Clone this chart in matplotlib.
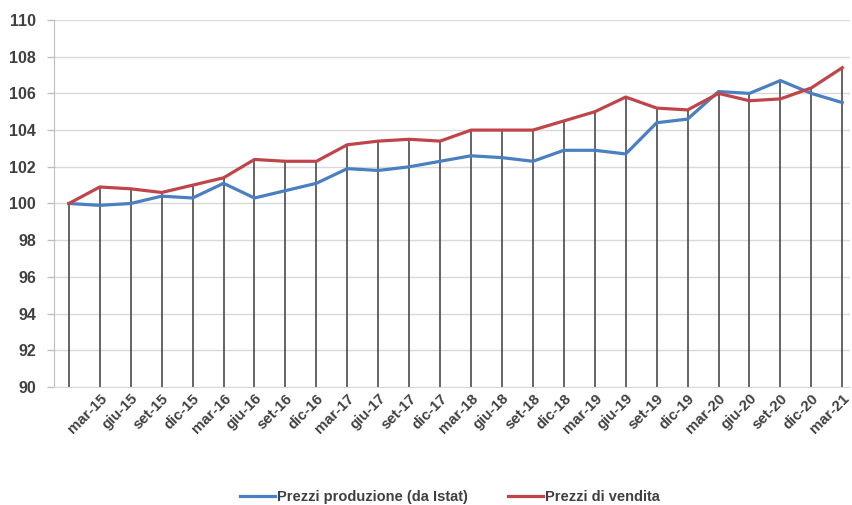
import numpy as np
import matplotlib.pyplot as plt

plt.rcParams['font.family'] = ['Liberation Sans', 'DejaVu Sans']

# quarterly categories (first one has no label in the original)
labels = ['', 'mar-15', 'giu-15', 'set-15', 'dic-15', 'mar-16', 'giu-16', 'set-16', 'dic-16',
          'mar-17', 'giu-17', 'set-17', 'dic-17', 'mar-18', 'giu-18', 'set-18', 'dic-18',
          'mar-19', 'giu-19', 'set-19', 'dic-19', 'mar-20', 'giu-20', 'set-20', 'dic-20', 'mar-21']

prezzi_produzione = [100.0, 99.9, 100.0, 100.4, 100.3, 101.1, 100.3, 100.7, 101.1,
                     101.9, 101.8, 102.0, 102.3, 102.6, 102.5, 102.3, 102.9,
                     102.9, 102.7, 104.4, 104.6, 106.1, 106.0, 106.7, 106.0, 105.5]

prezzi_vendita = [100.0, 100.9, 100.8, 100.6, 101.0, 101.4, 102.4, 102.3, 102.3,
                  103.2, 103.4, 103.5, 103.4, 104.0, 104.0, 104.0, 104.5,
                  105.0, 105.8, 105.2, 105.1, 106.0, 105.6, 105.7, 106.3, 107.4]

blue = '#4a7fc1'
red = '#c0454a'
txt = '#404040'

fig = plt.figure(figsize=(8.53, 5.05), dpi=100)
ax = fig.add_axes([54/853, 1 - 387/505, 796/853, 367/505])

x = np.arange(len(labels))
top = np.maximum(prezzi_produzione, prezzi_vendita)

# drop lines
ax.vlines(x, 90, top, color='#3a3a3a', linewidth=1.1, zorder=2)

ax.plot(x, prezzi_produzione, color=blue, linewidth=2.3, label='Prezzi produzione (da Istat)', zorder=3)
ax.plot(x, prezzi_vendita, color=red, linewidth=2.3, label='Prezzi di vendita', zorder=3)

ax.set_ylim(90, 110)
ax.set_yticks(np.arange(90, 111, 2))
ax.set_xlim(-0.48, 25.25)
ax.set_xticks(x)
ax.set_xticklabels(labels, rotation=45, ha='right', va='top', rotation_mode='anchor')

ax.grid(axis='y', color='#d9d9d9', linewidth=1)
ax.set_axisbelow(True)
for s in ['top', 'right']:
    ax.spines[s].set_visible(False)
ax.spines['left'].set_color('#bfbfbf')
ax.spines['bottom'].set_color('#d9d9d9')
ax.tick_params(axis='y', length=5, width=1, color='#bfbfbf', labelcolor=txt, pad=8)
ax.tick_params(axis='x', length=0, labelcolor=txt, pad=3)
for t in ax.get_yticklabels():
    t.set_fontweight('bold')
    t.set_fontsize(11.5)
for t in ax.get_xticklabels():
    t.set_fontweight('bold')
    t.set_fontsize(10.8)

leg = fig.legend(loc='center', bbox_to_anchor=(450/853, 1 - 497/505), ncol=2, frameon=False,
                 handlelength=2.4, handletextpad=0.1, columnspacing=2.8,
                 prop={'weight': 'bold', 'size': 10.5})
for t in leg.get_texts():
    t.set_color(txt)

fig.savefig('out.png', dpi=100)
